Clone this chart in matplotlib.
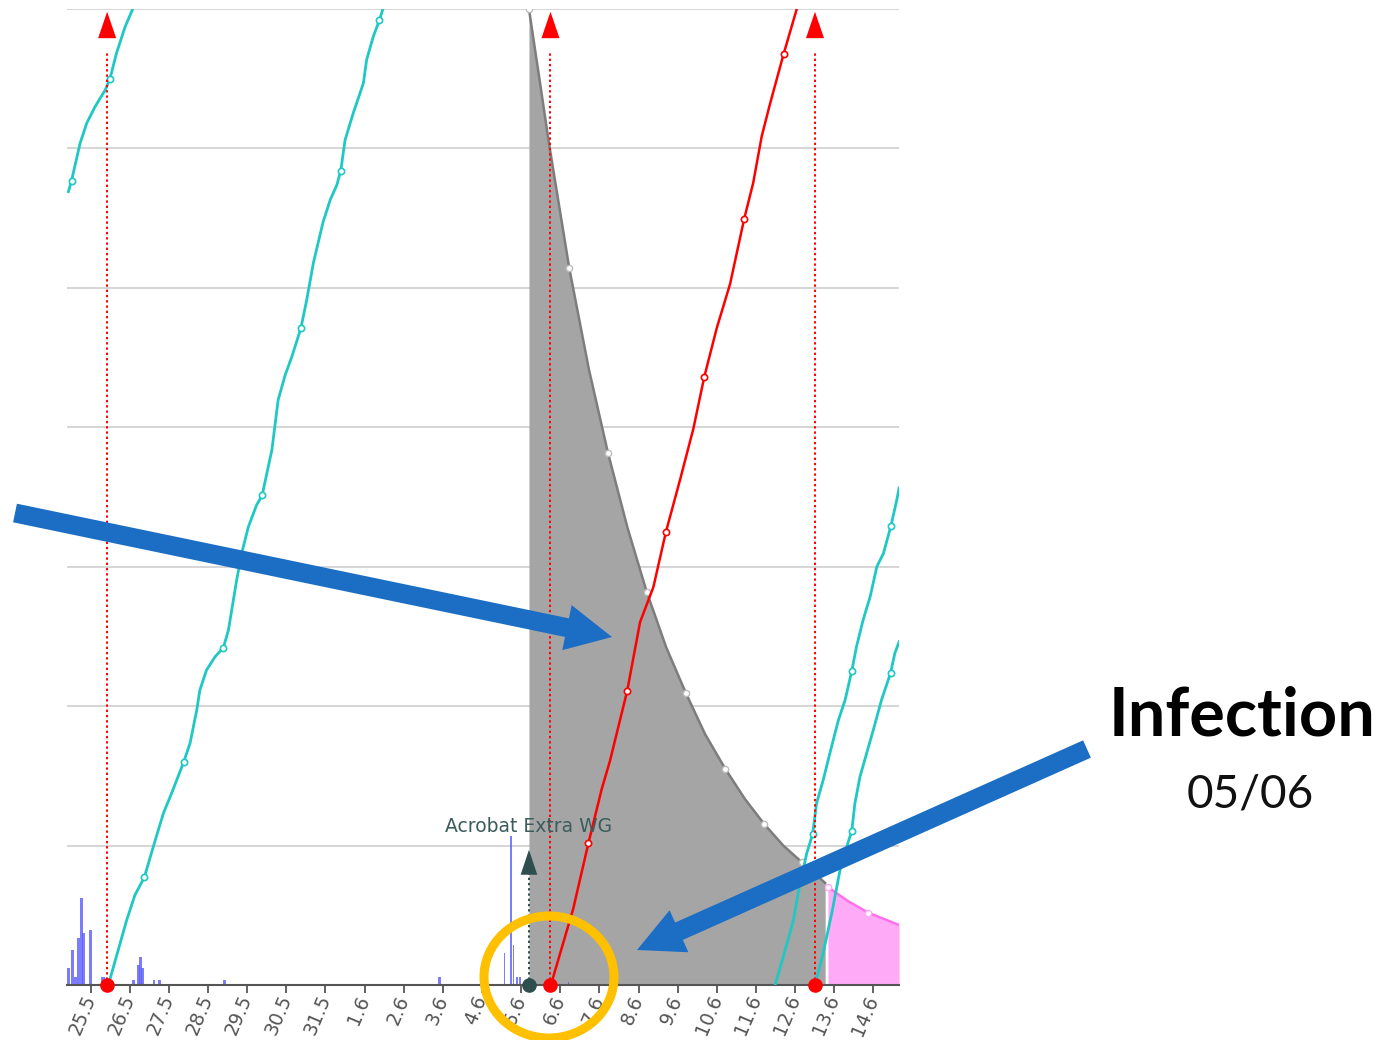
import numpy as np
import matplotlib.pyplot as plt
from matplotlib.patches import FancyArrow, Ellipse

# x axis: day number (May 25 = 25, June 1 = 32), y axis: 0..70
tick_pos = list(range(25, 46))
tick_labels = [f"{d}.5" for d in range(25, 32)] + [f"{d}.6" for d in range(1, 15)]

# incubation curves (cyan)
inc_a_x = [24.43, 24.51, 24.73, 24.90, 25.11, 25.37, 25.49, 25.66, 25.88, 26.07]
inc_a_y = [56.90, 57.69, 60.39, 61.82, 62.99, 64.19, 64.98, 66.84, 68.73, 69.98]
inc_a_marks = [1, 6]

inc_b_x = [25.45, 25.92, 26.13, 26.37, 26.60, 26.86, 27.07, 27.38, 27.54, 27.71, 27.79,
           27.96, 28.18, 28.39, 28.52, 28.73, 28.86, 29.03, 29.24, 29.38, 29.63, 29.79,
           29.97, 30.14, 30.37, 30.52, 30.69, 30.94, 31.12, 31.29, 31.39, 31.50, 31.71,
           31.97, 32.05, 32.22, 32.38, 32.46]
inc_b_y = [0.0, 4.66, 6.45, 7.72, 9.92, 12.34, 13.77, 16.02, 17.36, 19.72, 21.16,
           22.59, 23.55, 24.19, 25.46, 29.05, 30.98, 32.87, 34.43, 35.11, 38.37, 41.96,
           43.75, 45.06, 47.10, 49.13, 51.78, 54.74, 56.30, 57.38, 58.40, 60.60, 62.54,
           64.69, 66.34, 68.01, 69.21, 69.93]
inc_b_marks = [3, 7, 13, 19, 24, 30, 36]

inc_c_x = [42.49, 42.70, 42.96, 43.11, 43.30, 43.45, 43.55, 43.72, 43.89, 44.11, 44.28,
           44.45, 44.57, 44.74, 44.92, 45.09, 45.26, 45.45, 45.60, 45.66]
inc_c_y = [0.0, 2.03, 4.66, 7.05, 9.45, 10.83, 13.03, 14.70, 16.62, 19.01, 20.44,
           22.52, 24.26, 26.18, 27.85, 30.00, 30.96, 32.92, 34.78, 35.65]
inc_c_marks = [5, 11, 17]

inc_d_x = [43.51, 43.72, 43.94, 44.15, 44.32, 44.45, 44.53, 44.66, 44.83, 45.00, 45.21,
           45.44, 45.55, 45.66]
inc_d_y = [0.0, 2.30, 5.16, 8.25, 9.92, 11.05, 13.03, 14.94, 16.62, 18.29, 20.44,
           22.36, 23.79, 24.62]
inc_d_marks = [5, 11]

# infection of 05/06 (red)
inf_x = [36.76, 37.33, 37.72, 38.06, 38.27, 38.71, 39.04, 39.38, 39.70, 40.06, 40.40,
         40.68, 41.00, 41.34, 41.70, 41.93, 42.15, 42.36, 42.71, 43.04]
inf_y = [0.0, 5.45, 10.18, 14.06, 16.07, 21.09, 26.03, 28.54, 32.49, 36.22, 39.88,
         43.61, 47.12, 50.28, 54.94, 57.52, 60.89, 63.19, 66.79, 69.96]
inf_marks = [2, 5, 8, 11, 14, 18]

# fungicide protection (gray) and following period (magenta)
prot_x = [36.20, 36.48, 36.71, 37.23, 37.73, 38.22, 38.72, 39.21, 39.71, 40.21, 40.70,
          41.22, 41.72, 42.21, 42.70, 43.17, 43.77]
prot_y = [70.0, 64.76, 60.39, 51.42, 44.18, 38.16, 32.78, 28.19, 24.20, 20.94, 18.00,
          15.49, 13.34, 11.55, 10.00, 8.82, 7.32]
prot_marks = [0, 3, 5, 7, 9, 11, 13, 15]

after_x = [43.84, 44.35, 44.87, 45.66]
after_y = [7.03, 6.02, 5.19, 4.30]
after_marks = [0, 2]

# rain (blue bars)
rain_x = [24.44, 24.54, 24.61, 24.69, 24.76, 24.82, 25.00, 25.29, 25.34, 26.09, 26.23,
          26.28, 26.33, 26.62, 26.75, 28.41, 33.91, 35.58, 35.74, 35.80, 35.90, 35.97,
          37.21]
rain_h = [1.20, 2.51, 0.60, 3.35, 6.22, 3.73, 3.94, 0.60, 0.60, 0.36, 1.43,
          2.03, 1.22, 0.36, 0.36, 0.36, 0.60, 2.27, 10.69, 2.87, 0.60, 0.60,
          0.25]
rain_w = [0.07] * 17 + [0.04] * 6

infection_days = [25.42, 36.75, 43.51]
spray_day = 36.20
spray_name = "Acrobat Extra WG"

cyan = '#1fc8c4'
fig = plt.figure(figsize=(13.91, 10.40), dpi=100)
ax = fig.add_axes([67 / 1391, 55 / 1040, 832 / 1391, 976 / 1040])
ax.set_xlim(24.394, 45.657)
ax.set_ylim(0, 70)

for s in ['left', 'right', 'top']:
    ax.spines[s].set_visible(False)
ax.spines['bottom'].set_color('#555555')
ax.spines['bottom'].set_linewidth(1.5)
ax.set_yticks(range(10, 71, 10))
ax.tick_params(axis='y', length=0, labelleft=False)
ax.yaxis.grid(True, color='#d2d2d2', lw=1.3, zorder=0)
ax.set_axisbelow(True)

ax.set_xticks(tick_pos)
ax.set_xticklabels(tick_labels)
ax.tick_params(axis='x', length=6, width=1.3, color='#555555', labelsize=13.5,
               labelcolor='#555555', pad=2)
plt.setp(ax.get_xticklabels(), rotation=67, ha='right', va='center',
         rotation_mode='anchor')

# protection areas
ax.fill_between(prot_x, 0, prot_y, color='#a5a5a5', lw=0, zorder=1.5)
ax.plot(prot_x, prot_y, color='#7d7d7d', lw=1.8, zorder=1.6, marker='o',
        markevery=prot_marks, ms=4.5, mfc='white', mec='#bdbdbd', mew=1)
ax.fill_between(after_x, 0, after_y, color='#ffaaf6', lw=0, zorder=1.5)
ax.plot(after_x, after_y, color='#ff70ee', lw=1.8, zorder=1.6, marker='o',
        markevery=after_marks, ms=4.5, mfc='white', mec='#ffaaf6', mew=1)

# rain
ax.bar(rain_x, rain_h, width=rain_w, color='#5b5bff', alpha=0.8, lw=0, zorder=2)

# incubation curves
for xs, ys, mk in [(inc_a_x, inc_a_y, inc_a_marks), (inc_b_x, inc_b_y, inc_b_marks),
                   (inc_c_x, inc_c_y, inc_c_marks), (inc_d_x, inc_d_y, inc_d_marks)]:
    ax.plot(xs, ys, color=cyan, lw=2.0, zorder=3, marker='o', markevery=mk,
            ms=4.5, mfc='white', mec=cyan, mew=1.2)

ax.plot(inf_x, inf_y, color='#ff0000', lw=1.8, zorder=3.5, marker='o',
        markevery=inf_marks, ms=4.5, mfc='white', mec='#ff0000', mew=1.2)

# infection markers (dotted red with arrow)
for d in infection_days:
    ax.plot([d, d], [0, 67], color='#ff0000', lw=1.4, ls=(0, (1.2, 1.5)), zorder=4)
    ax.annotate('', xy=(d, 70), xytext=(d, 66),
                arrowprops=dict(arrowstyle='-|>,head_length=1.9,head_width=0.65',
                                color='#ff0000', lw=0, mutation_scale=10),
                zorder=4)
ax.plot(infection_days, [0] * len(infection_days), 'o', color='#ff0000', ms=9.5,
        zorder=5, clip_on=False)

# spray
ax.plot([spray_day, spray_day], [0, 8.5], color='#2f4f4f', lw=1.4,
        ls=(0, (1.2, 1.5)), zorder=4)
ax.annotate('', xy=(spray_day, 9.9), xytext=(spray_day, 6),
            arrowprops=dict(arrowstyle='-|>,head_length=1.8,head_width=0.6',
                            color='#2f4f4f', lw=0, mutation_scale=10), zorder=4)
ax.plot([spray_day], [0], 'o', color='#2f4f4f', ms=9.5, zorder=5, clip_on=False)
ax.text(spray_day, 10.97, spray_name, ha='center', va='baseline', fontsize=13.5,
        color='#3c5c5c', zorder=4)

# annotation overlay (in figure pixels)
arrow_tails = [(15, 513), (1087, 749)]
arrow_tips = [(612, 637), (637, 950)]
circle_center = (549, 977)
circle_size = (130, 122)

ov = fig.add_axes([0, 0, 1, 1], facecolor='none')
ov.set_xlim(0, 1391)
ov.set_ylim(1040, 0)
ov.axis('off')
for (x0, y0), (x1, y1) in zip(arrow_tails, arrow_tips):
    ov.add_patch(FancyArrow(x0, y0, x1 - x0, y1 - y0, width=19, head_width=46,
                            head_length=46, length_includes_head=True,
                            color='#1b6ec3', lw=0))
ov.add_patch(Ellipse(circle_center, circle_size[0], circle_size[1], fill=False,
                     ec='#ffc000', lw=6.5))
ov.text(1242, 735, 'Infection', ha='center', va='baseline', fontsize=48,
        fontweight='bold', family='Lato', color='black')
ov.text(1250, 808, '05/06', ha='center', va='baseline', fontsize=33,
        fontweight='normal', family='Lato', color='#111111')

fig.savefig('out.png', dpi=100)
